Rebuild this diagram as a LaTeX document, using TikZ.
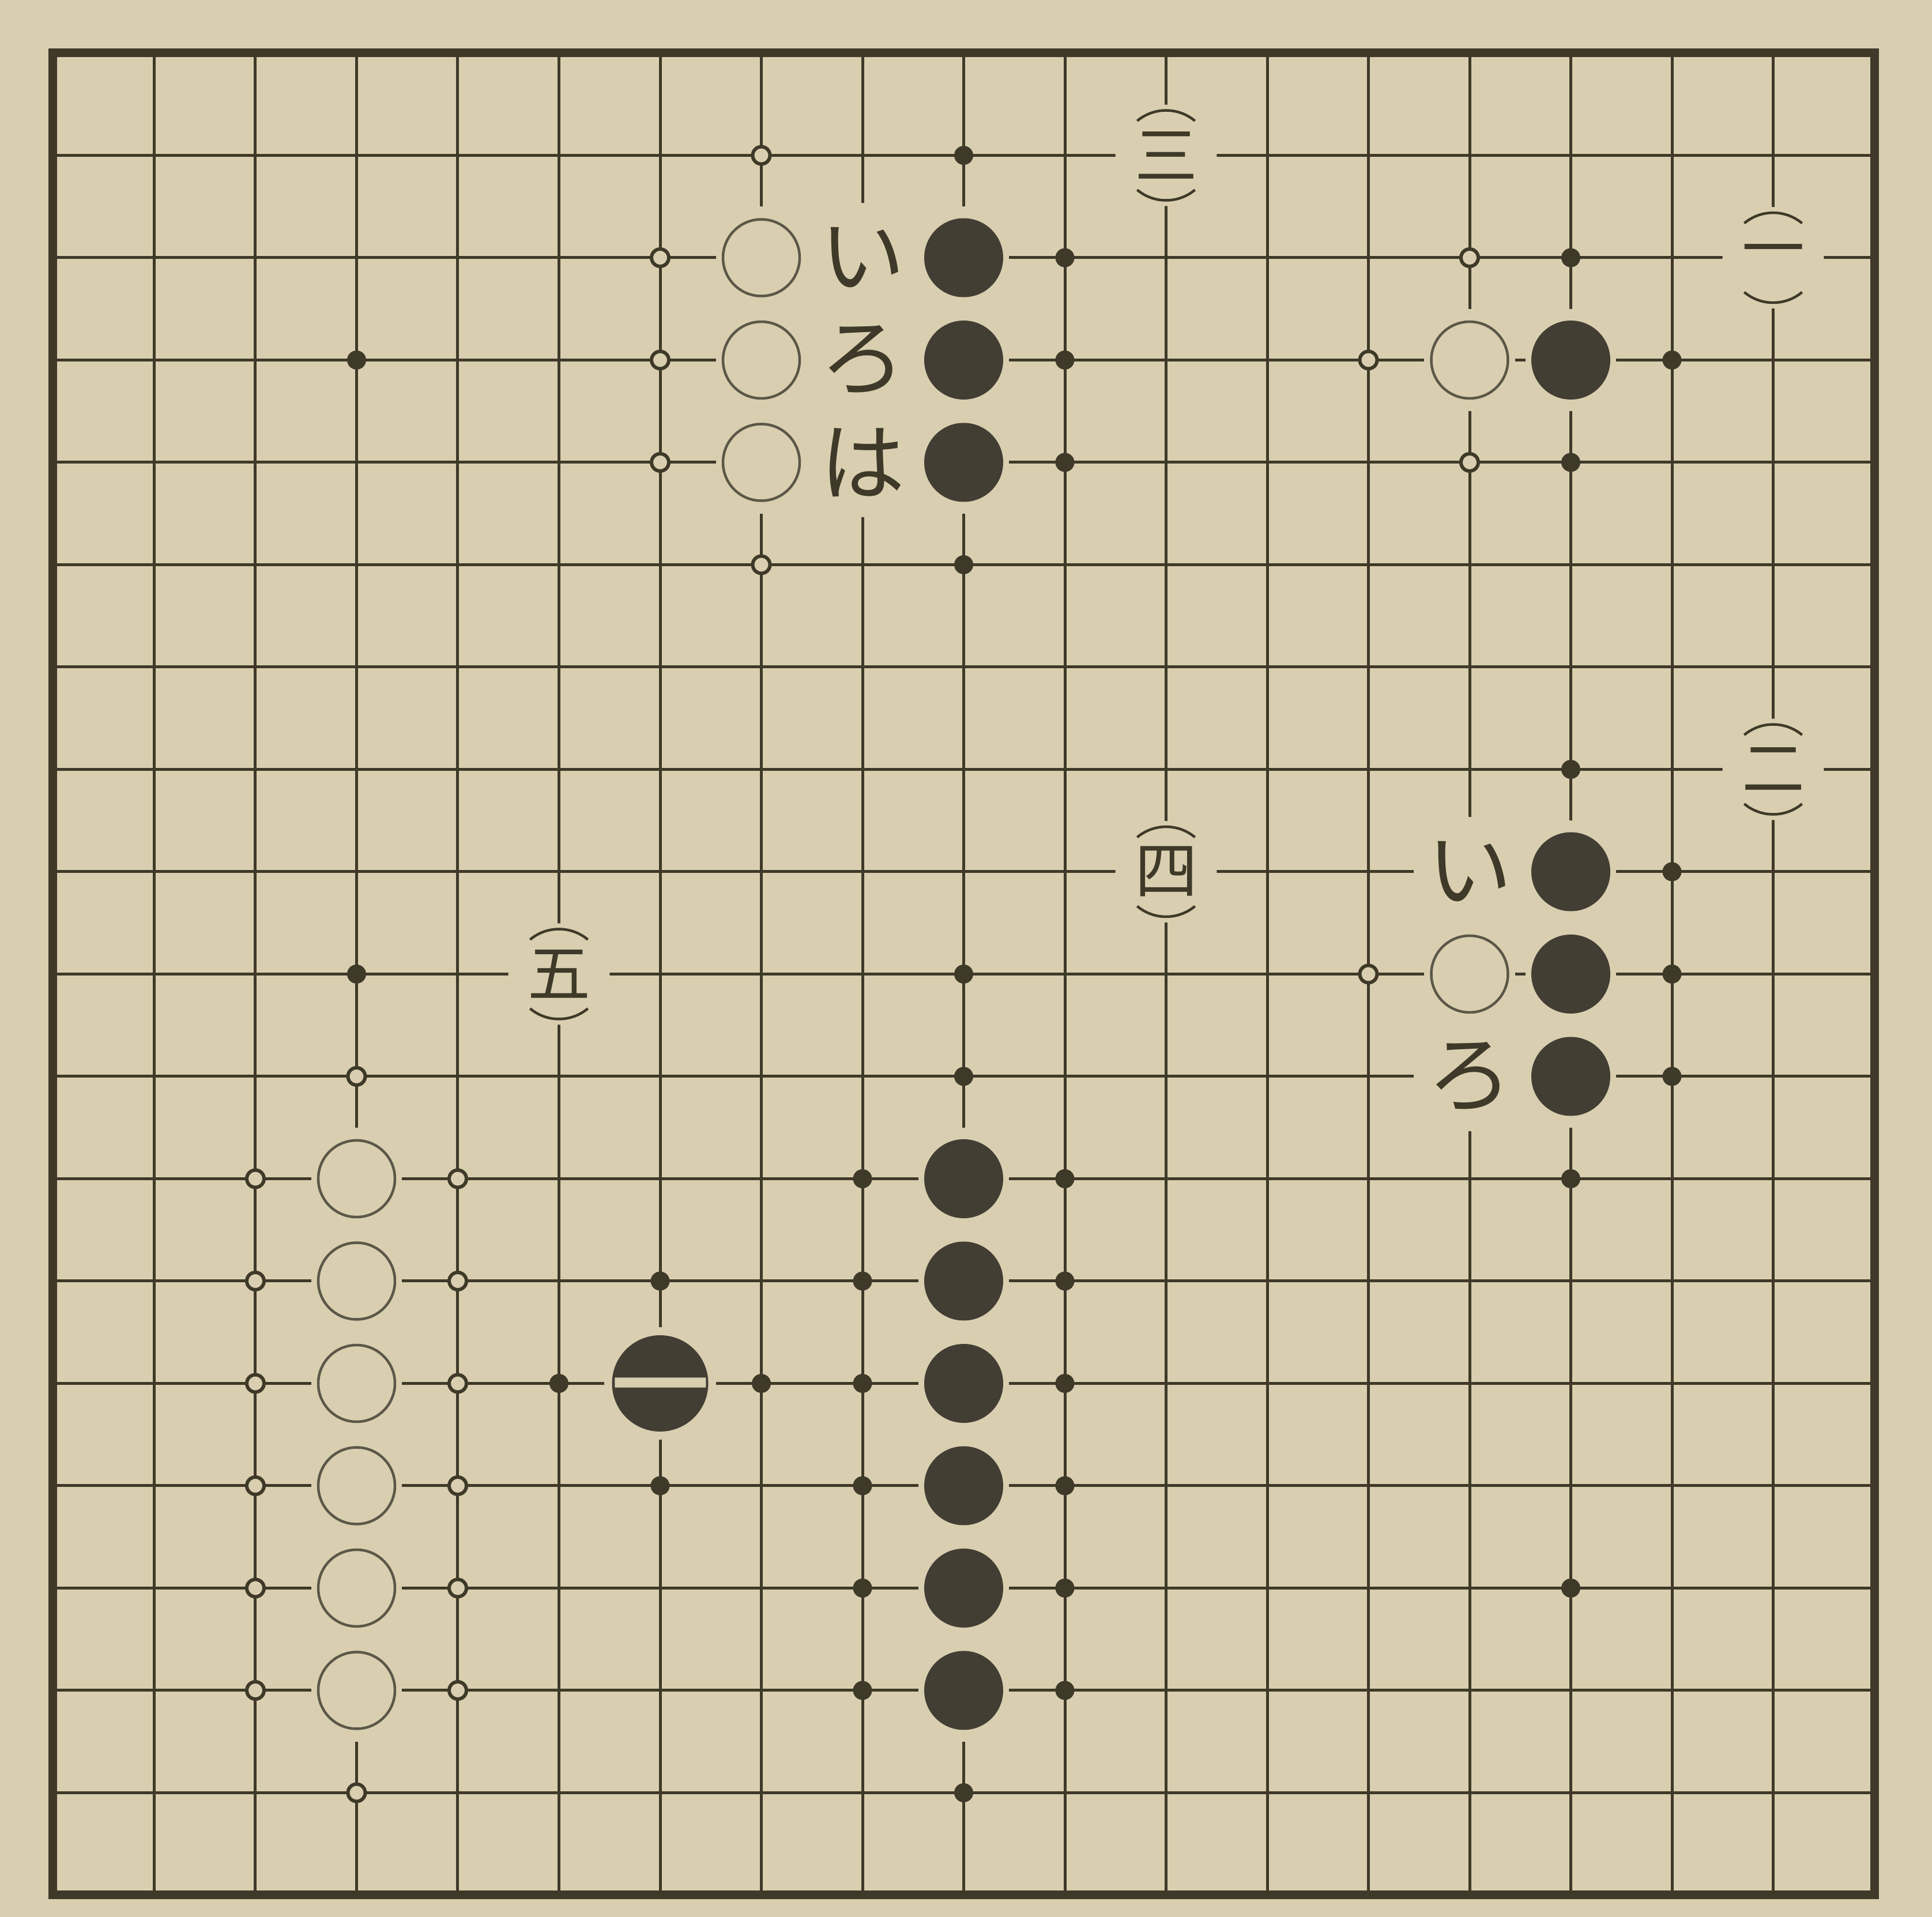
\documentclass[tikz,border=0pt]{standalone}
\usepackage{fontspec}
\newfontfamily\jpfont{Noto Sans CJK JP}
\newfontfamily\jpheavy[FakeBold=2]{Noto Sans CJK JP}
\definecolor{Paper}{HTML}{D9CFB0}
\definecolor{Ink}{HTML}{3E3928}
\definecolor{StoneBlack}{HTML}{433E34}
\tikzset{
  board/.style={draw=Ink, line width=0.15cm},
  gridline/.style={draw=Ink, line width=0.05cm},
  bstone/.style={circle, fill=StoneBlack, minimum size=1.37cm, inner sep=0pt},
  wstone/.style={circle, draw=Ink!85, fill=Paper, line width=0.045cm,
                 minimum size=1.33cm, inner sep=0pt},
  movestone/.style={bstone, minimum size=1.67cm},
  movenum/.style={text=Paper, inner sep=0pt,
                  font=\jpheavy\fontsize{48}{48}\selectfont},
  hdot/.style={circle, draw=Ink, fill=Paper, line width=0.06cm,
               minimum size=0.3cm, inner sep=0pt},
  bdot/.style={circle, fill=Ink, minimum size=0.33cm, inner sep=0pt},
  kana/.style={fill=Paper, minimum width=1.95cm, minimum height=1.9cm,
               inner sep=0pt, text=Ink, font=\jpfont\fontsize{42}{42}\selectfont},
  numlab/.style={circle, fill=Paper, minimum size=1.76cm, inner sep=0pt,
                 text=Ink, font=\jpfont\fontsize{31}{31}\selectfont,
                 path picture={
                   \draw[Ink, line width=0.045cm]
                     (path picture bounding box.center) ++(50:0.78cm)
                     arc[start angle=50, end angle=130, radius=0.78cm];
                   \draw[Ink, line width=0.045cm]
                     (path picture bounding box.center) ++(230:0.78cm)
                     arc[start angle=230, end angle=310, radius=0.78cm];
                 }},
}

\begin{document}
\begin{tikzpicture}[x=1.755cm, y=-1.775cm]
  % page, margins of the scan included
  \useasboundingbox (-0.5242,-0.5183) rectangle (18.570,18.214);
  \fill[Paper] (-0.5242,-0.5183) rectangle (18.570,18.214);

  % 19x19 board: column 0..18 left to right, row 0..18 top to bottom
  \foreach \i in {1,...,17} {
    \draw[gridline] (\i,0) -- (\i,18);
    \draw[gridline] (0,\i) -- (18,\i);
  }
  \draw[board] (0,0) rectangle (18,18);

  % star points
  \foreach \c/\r in {3/3, 3/9, 9/9, 15/15}
    \node[bdot] (star-\c-\r) at (\c,\r) {};

  % liberties of black
  \foreach \c/\r in {9/1, 10/2, 10/3, 10/4, 9/5,
                     15/2, 16/3, 15/4,
                     15/7, 16/8, 16/9, 16/10, 15/11,
                     9/10, 9/17,
                     8/11, 8/12, 8/13, 8/14, 8/15, 8/16,
                     10/11, 10/12, 10/13, 10/14, 10/15, 10/16,
                     6/12, 5/13, 7/13, 6/14}
    \node[bdot] (bl-\c-\r) at (\c,\r) {};

  % liberties of white
  \foreach \c/\r in {6/2, 6/3, 6/4, 7/1, 7/5,
                     14/2, 13/3, 14/4, 13/9,
                     3/10, 3/17,
                     2/11, 2/12, 2/13, 2/14, 2/15, 2/16,
                     4/11, 4/12, 4/13, 4/14, 4/15, 4/16}
    \node[hdot] (wl-\c-\r) at (\c,\r) {};

  % stones; each one clears the lines of its own cell first
  \foreach \c/\r in {9/2, 9/3, 9/4, 15/3, 15/8, 15/9, 15/10,
                     9/11, 9/12, 9/13, 9/14, 9/15, 9/16} {
    \fill[Paper] (\c-0.45,\r-0.5) rectangle (\c+0.45,\r+0.5);
    \node[bstone] (b-\c-\r) at (\c,\r) {};
  }
  \foreach \c/\r in {7/2, 7/3, 7/4, 14/3, 14/9,
                     3/11, 3/12, 3/13, 3/14, 3/15, 3/16} {
    \fill[Paper] (\c-0.45,\r-0.5) rectangle (\c+0.45,\r+0.5);
    \node[wstone] (w-\c-\r) at (\c,\r) {};
  }
  \fill[Paper] (5.45,12.45) rectangle (6.55,13.55);
  \node[movestone] (move-one) at (6,13) {};
  \node[movenum] (move-one-num) at ([yshift=-0.28cm]move-one.center) {一};

  % points named in the text
  \foreach \c/\r/\k in {8/2/い, 8/3/ろ, 8/4/は, 14/8/い, 14/10/ろ}
    \node[kana] (k-\c-\r) at (\c,\r) {\k};

  % bracketed move numbers
  \foreach \c/\r/\t/\n in {17/2/一/one, 17/7/二/two, 11/1/三/three,
                           11/8/四/four, 5/9/五/five}
    \node[numlab] (num-\n) at (\c,\r) {\t};
\end{tikzpicture}
\end{document}
